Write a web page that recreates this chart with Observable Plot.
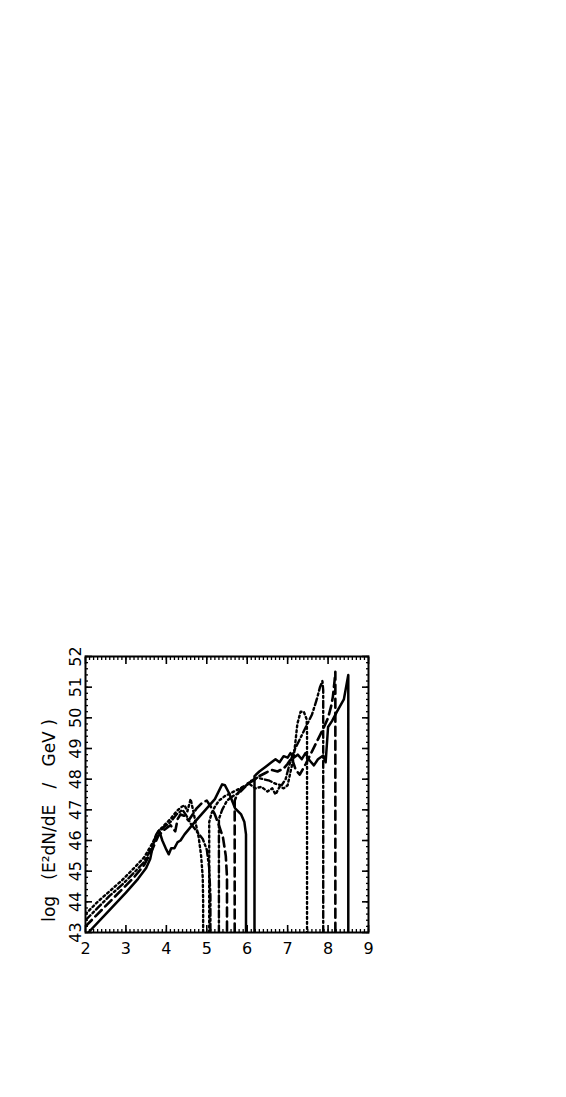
<!DOCTYPE html>
<html><head><meta charset="utf-8">
<script src="https://cdn.jsdelivr.net/npm/d3@7"></script>
<script src="https://cdn.jsdelivr.net/npm/@observablehq/plot@0.6"></script>
<style>body{margin:0;background:#fff}</style>
</head><body><div id="chart"></div>
<script>
const xTicks = [2,3,4,5,6,7,8,9];
const yTicks = [43,44,45,46,47,48,49,50,51,52];
const yTitle = "log\u00a0\u00a0\u00a0(E\u00b2dN/dE\u00a0\u00a0\u00a0/\u00a0\u00a0\u00a0GeV\u00a0)";

const solidX = [2.07,2.5,3.0,3.3,3.5,3.6,3.68,3.75,3.82,3.9,4.0,4.06,4.12,4.2,4.28,4.35,4.45,4.7,5.0,5.2,5.38,5.45,5.55,5.7,5.85,5.93,5.97,5.97,null,6.18,6.18,6.3,6.45,6.6,6.7,6.8,6.9,7.0,7.07,7.15,7.25,7.35,7.44,7.55,7.65,7.75,7.88,7.94,8.0,8.1,8.22,8.39,8.5,8.5];
const solidY = [43.0,43.6,44.3,44.75,45.1,45.4,45.9,46.2,46.33,46.0,45.7,45.55,45.75,45.75,45.95,46.0,46.2,46.6,47.05,47.35,47.83,47.8,47.55,47.05,46.85,46.6,46.2,43.0,null,43.0,48.1,48.25,48.4,48.55,48.65,48.55,48.75,48.7,48.85,48.7,48.8,48.65,48.85,48.6,48.45,48.65,48.77,48.55,49.7,49.9,50.2,50.6,51.4,43.0];

const dotX = [2.0,2.3,2.6,2.9,3.2,3.45,3.65,3.8,3.95,4.1,4.25,4.38,4.45,4.52,4.6,4.66,4.72,4.8,4.86,4.9,4.91,4.91,null,5.06,5.06,5.12,5.2,5.3,5.45,5.6,5.75,5.9,6.05,6.2,6.35,6.5,6.62,6.7,6.8,6.9,7.0,7.08,7.15,7.24,7.32,7.4,7.47,7.48,7.48];
const dotY = [43.6,44.0,44.35,44.7,45.1,45.45,45.9,46.3,46.5,46.7,46.95,47.1,47.15,46.95,47.35,47.0,46.6,46.1,45.5,44.8,44.0,43.0,null,43.0,46.6,46.9,47.1,47.3,47.45,47.55,47.65,47.75,47.85,47.7,47.75,47.6,47.7,47.5,47.75,47.7,47.8,48.3,48.7,49.8,50.2,50.2,49.95,49.5,43.0];

const dashDotX = [2.0,2.3,2.6,2.9,3.2,3.45,3.65,3.8,3.95,4.1,4.25,4.4,4.5,4.6,4.75,4.9,5.0,5.06,5.09,5.09,null,5.3,5.3,5.38,5.5,5.65,5.8,5.95,6.1,6.25,6.4,6.55,6.7,6.85,6.95,7.05,7.15,7.3,7.45,7.6,7.72,7.8,7.86,7.88,7.88];
const dashDotY = [43.4,43.8,44.2,44.55,44.95,45.3,45.8,46.25,46.45,46.6,46.85,47.0,46.8,46.55,46.3,46.05,45.7,45.1,44.2,43.0,null,43.0,46.7,47.0,47.3,47.45,47.55,47.75,47.95,48.05,48.0,47.95,47.85,47.8,48.0,48.5,48.9,49.3,49.7,50.1,50.6,51.0,51.2,50.9,43.0];

const longDashX = [2.0,2.3,2.6,2.9,3.2,3.45,3.65,3.8,3.95,4.1,4.22,4.28,4.35,4.45,4.55,4.65,4.75,4.9,5.0,5.1,5.2,5.3,5.4,5.47,5.5,5.5,null,5.69,5.69,5.75,5.85,6.0,6.15,6.3,6.45,6.6,6.75,6.9,7.0,7.1,7.2,7.3,7.45,7.6,7.75,7.9,8.0,8.08,8.12,8.16,8.18,8.18];
const longDashY = [43.2,43.6,44.0,44.4,44.8,45.2,45.7,46.15,46.35,46.5,46.3,46.7,46.85,46.8,46.65,46.85,47.05,47.25,47.3,47.1,46.85,46.5,46.1,45.5,44.8,43.0,null,43.0,47.3,47.5,47.7,47.85,47.95,48.1,48.2,48.3,48.25,48.35,48.5,48.7,48.3,48.15,48.5,48.9,49.3,49.7,50.0,50.4,50.7,51.2,51.5,43.0];

const series = [
  {x: solidX, y: solidY, dash: null, w: 2.5},
  {x: dotX, y: dotY, dash: "2,3", w: 2.4},
  {x: dashDotX, y: dashDotY, dash: "7,3,2,3", w: 2.4},
  {x: longDashX, y: longDashY, dash: "9,5", w: 2.6}
];
const rows = s => s.x.map((x, i) => ({x, y: s.y[i]}));

const minorX = d3.range(20, 91).map(d => d / 10);
const minorY = d3.range(215, 261).map(d => d / 5);

const W = 566, H = 1097;
const mL = 85, mR = 198, mT = 656, mB = 165;
const font = "'DejaVu Sans', 'Liberation Sans', sans-serif";
const blank = () => "";

const chart = Plot.plot({
  width: W, height: H,
  marginLeft: mL, marginRight: mR, marginTop: mT, marginBottom: mB,
  style: {fontFamily: font, background: "#fff", color: "#000"},
  x: {domain: [2, 9]},
  y: {domain: [43, 52]},
  marks: [
    ...series.map(s => Plot.line(rows(s), {x: "x", y: "y", stroke: "#000", strokeWidth: s.w, strokeDasharray: s.dash, strokeLinejoin: "round", clip: true})),
    // minor ticks (inward)
    Plot.axisX({anchor: "bottom", ticks: minorX, tickSize: -3, strokeWidth: 1.3, tickFormat: blank, label: null}),
    Plot.axisX({anchor: "top", ticks: minorX, tickSize: -3, strokeWidth: 1.3, tickFormat: blank, label: null}),
    Plot.axisY({anchor: "left", ticks: minorY, tickSize: -3, strokeWidth: 1.3, tickFormat: blank, label: null}),
    Plot.axisY({anchor: "right", ticks: minorY, tickSize: -3, strokeWidth: 1.3, tickFormat: blank, label: null}),
    // major ticks (inward)
    Plot.axisX({anchor: "top", ticks: xTicks, tickSize: -7, strokeWidth: 1.6, tickFormat: blank, label: null}),
    Plot.axisY({anchor: "right", ticks: yTicks, tickSize: -7, strokeWidth: 1.6, tickFormat: blank, label: null}),
    Plot.axisX({anchor: "bottom", ticks: xTicks, tickSize: -7, strokeWidth: 1.6, tickPadding: 17, fontSize: 16, label: null, tickFormat: d => String(d)}),
    Plot.axisY({anchor: "left", ticks: yTicks, tickSize: -7, strokeWidth: 1.6, tickPadding: 12, tickRotate: -90, fontSize: 16, label: null, tickFormat: d => String(d)}),
    Plot.frame({stroke: "#000", strokeWidth: 2}),
    Plot.text([yTitle], {text: d => d, frameAnchor: "left", textAnchor: "middle", rotate: -90, dx: -36, dy: 26, fontSize: 17})
  ]
});
document.getElementById("chart").append(chart);
</script>
</body></html>
